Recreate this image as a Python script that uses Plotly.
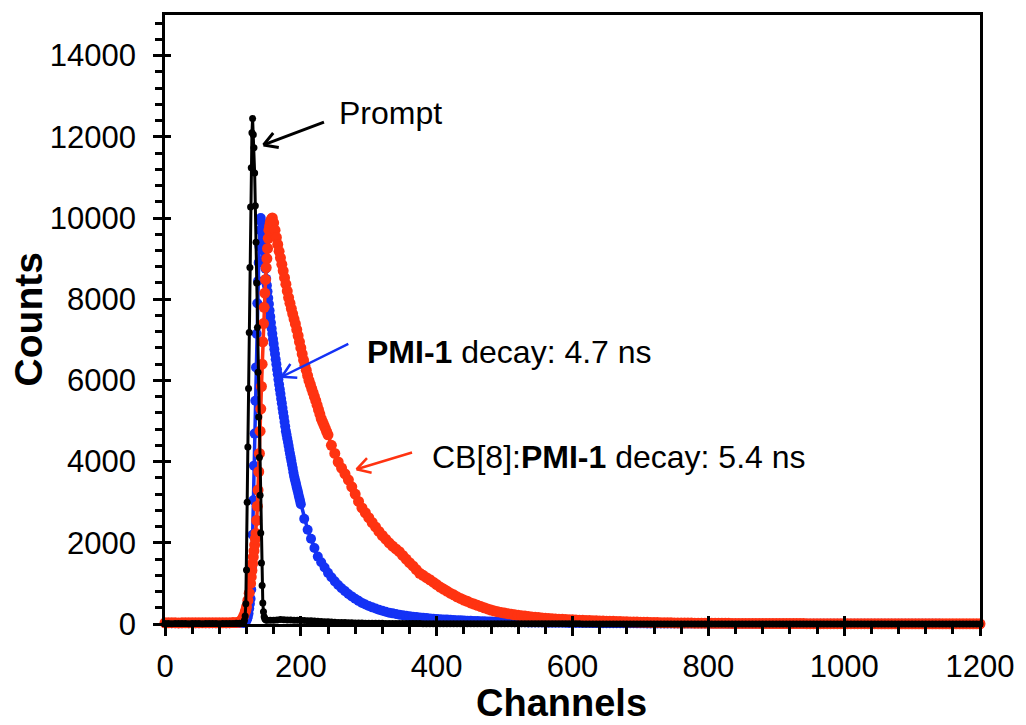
import math
import plotly.graph_objects as go

FONT = "Liberation Sans, Arial, Helvetica, sans-serif"

# ---------------- Prompt (instrument response) ----------------
prompt_ch = list(range(0, 116, 5)) + list(range(116, 151)) + list(range(155, 1201, 5))
prompt_counts = (
    [10, 12, 9, 11, 10, 10, 12, 9, 10, 11, 10, 9, 11, 10, 12, 10, 9, 11, 10, 12, 14, 16, 20, 28]
    + [40, 90, 200, 500, 1330, 3000, 4360, 5800, 7180, 8780,
       10270, 11240, 12100, 12450, 12050, 11730, 11110, 10300, 9400, 8400,
       7300, 6200, 5100, 4100, 3170, 2240, 1500, 950, 520, 300,
       180, 130, 110, 100, 95]
    + [90, 95, 100, 108, 104, 100, 98, 95, 93, 90,
       86, 82, 78, 73, 68, 63, 58, 53, 48, 44,
       40, 37, 34, 31, 29, 27, 25, 23, 21, 20,
       19, 18, 17, 16, 15, 14, 14, 13, 12, 12,
       11, 11, 10, 10, 10, 9, 9, 9, 8, 8,
       8, 8, 7, 7, 7, 7, 7, 6, 6, 6,
       6, 6, 6, 5, 5, 5, 5, 5, 5, 5,
       5, 5, 5, 4, 4, 4, 4, 4, 4, 4,
       4, 4, 4, 4, 4, 4, 4, 4, 4, 4,
       4, 4, 3, 3, 3, 3, 3, 3, 3, 3,
       3, 3, 3, 3, 3, 3, 3, 3, 3, 3,
       3, 3, 3, 3, 3, 3, 3, 3, 3, 3,
       3, 3, 3, 3, 3, 2, 2, 2, 2, 2,
       2, 2, 2, 2, 2, 2, 2, 2, 2, 2,
       2, 2, 2, 2, 2, 2, 2, 2, 2, 2,
       2, 2, 2, 2, 2, 2, 2, 2, 2, 2,
       2, 2, 2, 2, 2, 2, 2, 2, 2, 2,
       2, 2, 2, 2, 2, 2, 2, 2, 2, 2,
       2, 2, 2, 2, 2, 2, 2, 2, 2, 2,
       2, 2, 2, 2, 2, 2, 2, 2, 2, 2,
       2, 2, 2, 2, 2, 2, 2, 2, 2, 2]
)

# ---------------- PMI-1 ----------------
pmi_ch = list(range(0, 116, 5)) + list(range(116, 201)) + list(range(205, 1201, 5))
pmi_counts = (
    [20, 22, 18, 21, 20, 19, 23, 20, 21, 18, 20, 22, 19, 21, 20, 20, 18, 22, 21, 20, 23, 24, 26, 28]
    + [30, 40, 50, 65, 90, 130, 180, 260, 380, 500,
       620, 850, 1400, 2200, 3050, 3900, 4690, 5500, 6320, 7150,
       7900, 8450, 8900, 9300, 9700, 10000, 9900, 9750]
    + [9560, 9380, 9190, 9000, 8750, 8500, 8340, 8190, 8030, 7880,
       7720, 7570, 7420, 7280, 7150, 7020, 6900, 6770, 6650, 6520,
       6400, 6270, 6150, 6020, 5900, 5780, 5670, 5550, 5440, 5320,
       5210, 5100, 4980, 4870, 4750, 4660, 4570, 4480, 4390, 4290,
       4200, 4110, 4020, 3930, 3840, 3740, 3650, 3580, 3510, 3440,
       3370, 3300, 3230, 3160, 3090, 3020, 2950]
    + [2590, 2320, 2100, 1870, 1660, 1520, 1390, 1260,
       1150, 1050, 960, 880, 810, 740, 680, 620, 570, 520,
       480, 445, 410, 380, 350, 325, 300, 280, 262, 245,
       230, 216, 203, 191, 180, 170, 161, 153, 145, 138,
       131, 125, 119, 113, 108, 103, 98, 94, 90, 86,
       82, 78, 75, 72, 69, 66, 63, 60, 58, 56,
       54, 52, 50, 48, 46, 44, 42, 41, 40, 38,
       37, 36, 35, 34, 33, 32, 31, 30, 29, 28,
       27, 26, 26, 25, 24, 24, 23, 22, 22, 21,
       21, 20, 20, 19, 19, 18, 18, 17, 17, 17,
       16, 16, 16, 15, 15, 15, 14, 14, 14, 13,
       13, 13, 13, 12, 12, 12, 12, 11, 11, 11,
       11, 11, 10, 10, 10, 10, 10, 9, 9, 9,
       9, 9, 9, 9, 8, 8, 8, 8, 8, 8,
       8, 7, 7, 7, 7, 7, 7, 7, 7, 6,
       6, 6, 6, 6, 6, 6, 6, 6, 6, 5,
       5, 5, 5, 5, 5, 5, 5, 5, 5, 5,
       5, 5, 5, 4, 4, 4, 4, 4, 4, 4,
       4, 4, 4, 4, 4, 4, 4, 4, 4, 4,
       3, 3, 3, 3, 3, 3, 3, 3, 3, 3,
       3, 3]
)

# ---------------- CB[8]:PMI-1 ----------------
cb_ch = (list(range(0, 111, 5)) + [112, 114, 116, 118, 119, 120, 122, 124, 126]
         + list(range(127, 159)) + list(range(160, 241, 2)) + list(range(245, 1201, 5)))
cb_counts = (
    [30, 28, 32, 30, 27, 31, 29, 30, 33, 28, 30, 31, 29, 30, 32, 30, 28, 31, 30, 33, 35, 38, 45]
    + [80, 130, 200, 290, 340, 420, 580, 760, 1000]
    + [1160, 1320, 1490, 1650, 1800, 1950, 2100, 2230, 2550, 2900,
       3300, 3750, 4200, 4750, 5300, 5850, 6400, 6950, 7400, 7800,
       8150, 8480, 8780, 9000, 9250, 9500, 9700, 9800, 9880, 9940,
       9980, 10000]
    + [9880, 9700, 9520, 9350, 9180, 9020, 8860, 8700, 8530, 8370,
       8200, 8040, 7900, 7770, 7640, 7510, 7390, 7250, 7100, 6950,
       6800, 6650, 6500, 6370, 6250, 6120, 6000, 5900, 5800, 5700,
       5600, 5500, 5390, 5280, 5170, 5060, 4980, 4900, 4820, 4740,
       4660]
    + [4400, 4200, 3990,
       3840, 3700, 3550, 3380, 3200, 3020, 2860, 2740, 2620, 2500,
       2390, 2280, 2180, 2090, 2000, 1920, 1850, 1780, 1690, 1600,
       1510, 1430, 1340, 1250, 1200, 1140, 1090, 1030, 970, 910,
       860, 810, 760, 720, 670, 630, 590, 560, 520, 490,
       460, 430, 400, 370, 345, 320, 300, 285, 270, 255,
       240, 228, 215, 205, 195, 185, 175, 165, 158, 150,
       143, 137, 130, 125, 120, 115, 110, 106, 102, 98,
       94, 90, 87, 84, 81, 78, 75, 72, 69, 67,
       65, 62, 60, 57, 55, 52, 50, 48, 46, 44,
       42, 40, 37, 35, 32, 30, 29, 28, 27, 26,
       25, 24, 23, 22, 21, 21, 20, 19, 19, 18,
       18, 17, 17, 16, 16, 15, 15, 15, 14, 14,
       14, 13, 13, 13, 12, 12, 12, 12, 11, 11,
       11, 11, 10, 10, 10, 10, 10, 9, 9, 9,
       9, 9, 9, 8, 8, 8, 8, 8, 8, 8,
       7, 7, 7, 7, 7, 7, 7, 7, 6, 6,
       6, 6, 6, 6, 6, 6, 6, 6, 6, 5,
       5, 5, 5, 5, 5, 5, 5, 5, 5, 5,
       5, 5, 5, 4, 4, 4, 4, 4, 4]
)

BLACK = "#000000"
BLUE = "#1432F5"
RED = "#FF3311"

fig = go.Figure()


def add_series(ch, counts, color, size, width, name):
    fig.add_trace(go.Scatter(
        x=ch, y=counts, name=name, mode="lines+markers",
        line=dict(color=color, width=width),
        marker=dict(color=color, size=size, line=dict(width=0)),
        cliponaxis=False, showlegend=False,
    ))


add_series(pmi_ch, pmi_counts, BLUE, 10, 3.5, "PMI-1")
add_series(cb_ch, cb_counts, RED, 11, 3.5, "CB[8]:PMI-1")
add_series(prompt_ch, prompt_counts, BLACK, 7, 3, "Prompt")

# empty trace that carries the overlay axes used for the inward half of the major ticks
fig.add_trace(go.Scatter(x=[None], y=[None], xaxis="x2", yaxis="y2",
                         showlegend=False, hoverinfo="skip"))

tick_font = dict(family=FONT, size=31, color="black")

fig.update_layout(
    width=1026, height=725,
    margin=dict(l=165, r=40, t=14, b=101),
    paper_bgcolor="white", plot_bgcolor="white",
    xaxis=dict(
        range=[0, 1200], tick0=0, dtick=200, tickformat="d",
        showline=True, linecolor="black", linewidth=2.5, mirror=True,
        ticks="outside", ticklen=9, tickwidth=2.5, tickcolor="black",
        minor=dict(dtick=40, ticks="outside", ticklen=7, tickwidth=2.5, tickcolor="black"),
        showgrid=False, zeroline=False, tickfont=tick_font, ticklabelstandoff=4,
    ),
    yaxis=dict(
        range=[0, 15000], tick0=0, dtick=2000, tickformat="d",
        showline=True, linecolor="black", linewidth=2.5, mirror=True,
        ticks="outside", ticklen=9, tickwidth=2.5, tickcolor="black",
        minor=dict(dtick=400, ticks="outside", ticklen=7, tickwidth=2.5, tickcolor="black"),
        showgrid=False, zeroline=False, tickfont=tick_font, ticklabelstandoff=11,
    ),
    xaxis2=dict(
        overlaying="x", anchor="y", range=[0, 1200], tick0=0, dtick=200,
        ticks="inside", ticklen=8, tickwidth=2.5, tickcolor="black",
        showticklabels=False, showline=False, showgrid=False, zeroline=False,
    ),
    yaxis2=dict(
        overlaying="y", anchor="x", side="left", range=[0, 15000], tick0=0, dtick=2000,
        ticks="inside", ticklen=6, tickwidth=2.5, tickcolor="black",
        showticklabels=False, showline=False, showgrid=False, zeroline=False,
    ),
)


def arrow(tip_x, tip_y, dx, dy, color, width, barb=15, spread=30):
    """Open chevron arrow: shaft from a pixel offset to the tip, plus two barbs."""
    length = math.hypot(dx, dy)
    ux, uy = dx / length, dy / length
    base = dict(x=tip_x, y=tip_y, xref="x", yref="y", axref="pixel", ayref="pixel",
                text="", showarrow=True, arrowhead=0, arrowwidth=width,
                arrowcolor=color, standoff=0, startstandoff=0, borderpad=0)
    anns = [dict(base, ax=dx, ay=dy)]
    for s in (1, -1):
        a = math.radians(spread * s)
        bx = barb * (ux * math.cos(a) - uy * math.sin(a))
        by = barb * (ux * math.sin(a) + uy * math.cos(a))
        anns.append(dict(base, ax=bx, ay=by))
    return anns


label_font = dict(family=FONT, size=32, color="black")
annotations = []
annotations += arrow(145, 11800, 61, -23, BLACK, 3, barb=16)
annotations += arrow(172, 6090, 67, -33, BLUE, 2.5, barb=16)
annotations += arrow(282, 3810, 56, -17, RED, 2.5, barb=16)
annotations += [
    dict(text="Prompt", x=0.2107, y=0.8393, xref="paper", yref="paper",
         xanchor="left", yanchor="middle", showarrow=False, font=label_font),
    dict(text="<b>PMI-1</b> decay: 4.7 ns", x=0.246, y=0.4459, xref="paper", yref="paper",
         xanchor="left", yanchor="middle", showarrow=False, font=label_font),
    dict(text="CB[8]:<b>PMI-1</b> decay: 5.4 ns", x=0.3252, y=0.2738, xref="paper", yref="paper",
         xanchor="left", yanchor="middle", showarrow=False, font=label_font),
    dict(text="<b>Counts</b>", x=-0.167, y=0.5, xref="paper", yref="paper",
         xanchor="center", yanchor="middle", textangle=-90, showarrow=False,
         font=dict(family=FONT, size=39, color="black")),
    dict(text="<b>Channels</b>", x=0.487, y=-0.1295, xref="paper", yref="paper",
         xanchor="center", yanchor="middle", showarrow=False,
         font=dict(family=FONT, size=38, color="black")),
]
fig.update_layout(annotations=annotations)

fig.write_html("out.html")
